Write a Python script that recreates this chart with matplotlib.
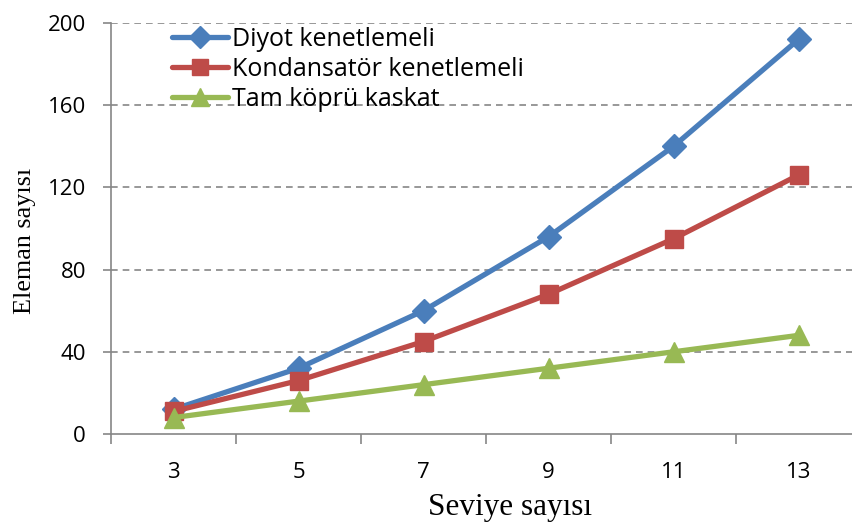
import numpy as np
import matplotlib.pyplot as plt

levels = ['3', '5', '7', '9', '11', '13']
diyot = [12, 32, 60, 96, 140, 192]
kondansator = [11, 26, 45, 68, 95, 126]
tam_kopru = [8, 16, 24, 32, 40, 48]

series = [
    ('Diyot kenetlemeli', diyot, '#4A7EBB', 'D', 12),
    ('Kondansatör kenetlemeli', kondansator, '#BE4B48', 's', 13),
    ('Tam köprü kaskat', tam_kopru, '#98B954', '^', 15),
]

fig = plt.figure(figsize=(8.52, 5.22), dpi=100)
ax = fig.add_axes([111 / 852, 88 / 522, 750 / 852, 411 / 522])

x = np.arange(len(levels))
for name, vals, col, mk, ms in series:
    ax.plot(x, vals, color=col, lw=3.8, marker=mk, markersize=ms,
            markeredgecolor=col, label=name, solid_capstyle='round')

ax.set_xlim(-0.5, len(levels) - 0.5)
ax.set_ylim(0, 200)
ax.set_yticks([0, 40, 80, 120, 160, 200])
ax.set_xticks(x)
ax.set_xticklabels(levels)
ax.set_xticks(np.arange(-0.5, len(levels)), minor=True)
ax.tick_params(axis='x', which='major', length=0, pad=20)
ax.tick_params(axis='x', which='minor', length=7, color='#868686', width=1.2)
ax.tick_params(axis='y', length=6, color='#868686', width=1.2, pad=12)
ax.tick_params(labelsize=16)
for lab in ax.get_xticklabels() + ax.get_yticklabels():
    lab.set_family('Open Sans')

for yv in [40, 80, 120, 160, 200]:
    ax.axhline(yv, color='#868686', lw=1.2, ls=(0, (4, 3)), zorder=0)

for s in ['top', 'right']:
    ax.spines[s].set_visible(False)
for s in ['left', 'bottom']:
    ax.spines[s].set_color('#868686')
    ax.spines[s].set_linewidth(1.2)

ax.set_xlabel('Seviye sayısı', family='Liberation Serif', fontsize=22.5)
ax.xaxis.set_label_coords(0.532, -0.143)
ax.set_ylabel('Eleman sayısı', family='Liberation Serif', fontsize=18.8)
ax.yaxis.set_label_coords(-0.1, 0.47)

leg = ax.legend(loc='upper left', bbox_to_anchor=(0.081, 0.99), frameon=False,
                prop={'family': 'Open Sans', 'size': 18}, handlelength=2.25,
                handletextpad=0.16, labelspacing=0.2, borderaxespad=0,
                borderpad=0, markerscale=0.9)

fig.savefig('out.png', dpi=100)
